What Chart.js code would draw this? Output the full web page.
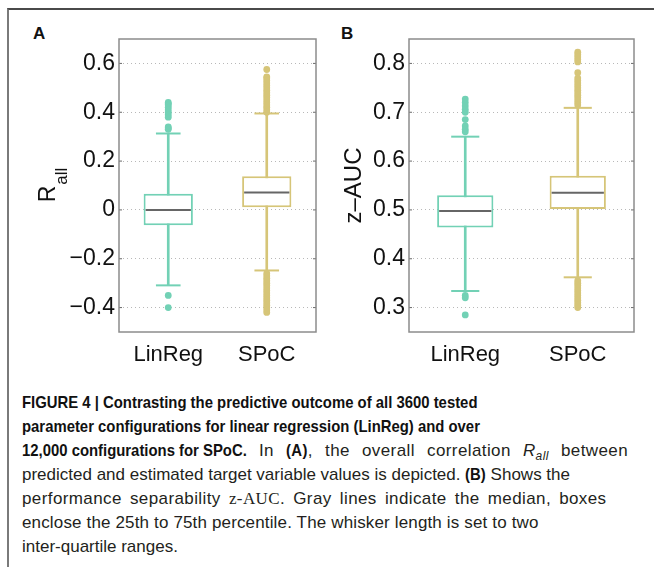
<!DOCTYPE html>
<html>
<head>
<meta charset="utf-8">
<script src="https://cdn.jsdelivr.net/npm/chart.js@4.4.1/dist/chart.umd.min.js"></script>
<style>
  body { margin: 0; background: #fff; width: 654px; height: 567px; overflow: hidden; position: relative;
         font-family: "Liberation Sans", Arial, sans-serif; }
  #frame { position: absolute; left: 7px; top: 8px; width: 660px; height: 600px;
           border-top: 2px solid #4a4a4a; border-left: 2px solid #7a7a7a; }
  .panel { position: absolute; top: 0; }
  #boxA { left: 0; width: 320px; height: 370px; }
  #boxB { left: 320px; width: 334px; height: 370px; }
  .tag { position: absolute; top: 24px; font: bold 17px "Liberation Sans", Arial, sans-serif; color: #111; }
  #caption { position: absolute; left: 22px; top: 391px; font-size: 17px; line-height: 24px;
             white-space: nowrap; color: #231f20; }
  #caption div { height: 24px; }
  #caption b { color: #111; display: inline-block; transform-origin: 0 50%; }
  #caption sub { font-size: 12px; line-height: 0; }
  .zauc { font-family: "Liberation Serif", "DejaVu Serif", serif; }
  .l3 { word-spacing: 7px; letter-spacing: 0.4px; }
  .l5 { word-spacing: 3px; letter-spacing: 0.4px; }
  .l6 { letter-spacing: 0.15px; }
</style>
</head>
<body>
<div id="frame"></div>
<div class="tag" style="left:33px">A</div>
<div class="tag" style="left:341px">B</div>
<div class="panel" id="boxA"><canvas id="chartA" width="320" height="370"></canvas></div>
<div class="panel" id="boxB"><canvas id="chartB" width="334" height="370"></canvas></div>
<div id="caption">
  <div><b>FIGURE 4 | Contrasting the predictive outcome of all 3600 tested</b></div>
  <div><b>parameter configurations for linear regression (LinReg) and over</b></div>
  <div><b>12,000 configurations for SPoC.</b><span class="l3"> In <b>(A)</b>, the overall correlation <i>R<sub>all</sub></i> between</span></div>
  <div>predicted and estimated target variable values is depicted. <b>(B)</b> Shows the</div>
  <div class="l5">performance separability <span class="zauc">z-AUC</span>. Gray lines indicate the median, boxes</div>
  <div class="l6">enclose the 25th to 75th percentile. The whisker length is set to two</div>
  <div>inter-quartile ranges.</div>
</div>
<script>
const categories = ['LinReg', 'SPoC'];
const boxColors = ['#72d1b5', '#d6c578'];
const medianColor = '#666666';

// A: overall correlation R_all
const rallQ1 = [-0.063, 0.011];
const rallMedian = [0.0, 0.071];
const rallQ3 = [0.066, 0.138];
const rallWhiskerLow = [-0.309, -0.248];
const rallWhiskerHigh = [0.313, 0.395];
const rallOutliersLinReg = [0.44, 0.435, 0.43, 0.42, 0.41, 0.40, 0.39, 0.38, 0.34, 0.335, 0.33, -0.35, -0.40];
const rallOutliersSPoC = [0.575, 0.545, 0.54, 0.53, 0.52, 0.51, 0.50, 0.49, 0.48, 0.47, 0.46, 0.45, 0.44, 0.43,
  0.42, 0.41, 0.40, -0.26, -0.27, -0.28, -0.29, -0.30, -0.31, -0.32, -0.33, -0.34, -0.35, -0.36, -0.37, -0.38,
  -0.39, -0.40, -0.41, -0.42];
const rallTicks = [-0.4, -0.2, 0, 0.2, 0.4, 0.6];

// B: performance separability z-AUC
const zaucQ1 = [0.464, 0.502];
const zaucMedian = [0.498, 0.535];
const zaucQ3 = [0.530, 0.570];
const zaucWhiskerLow = [0.334, 0.362];
const zaucWhiskerHigh = [0.650, 0.709];
const zaucOutliersLinReg = [0.727, 0.72, 0.713, 0.706, 0.70, 0.685, 0.672, 0.665, 0.66, 0.325, 0.32, 0.285];
const zaucOutliersSPoC = [0.823, 0.818, 0.813, 0.808, 0.803, 0.781, 0.77, 0.765, 0.76, 0.755, 0.75, 0.745, 0.74,
  0.735, 0.73, 0.725, 0.72, 0.715, 0.355, 0.35, 0.345, 0.34, 0.335, 0.33, 0.325, 0.32, 0.315, 0.31, 0.305, 0.30];
const zaucTicks = [0.3, 0.4, 0.5, 0.6, 0.7, 0.8];

const fontFamily = '"Liberation Sans", Arial, sans-serif';

// bold caption runs are set a bit narrower than the regular text
document.querySelectorAll('#caption b').forEach(b => {
  const w = b.getBoundingClientRect().width;
  b.style.transform = 'scaleX(0.875)';
  b.style.marginRight = (-(1 - 0.875) * w) + 'px';
});

function fmtTick(v) {
  if (v === 0) return '0';
  return (v < 0 ? '\u2212' : '') + Math.abs(v).toFixed(1);
}

// whisker caps, median bars, plot frame, inner tick marks and the rotated y title
function boxDetails(p) {
  return {
    id: 'boxDetails',
    afterDatasetsDraw(chart) {
      const ctx = chart.ctx, y = chart.scales.y;
      const boxes = chart.getDatasetMeta(2).data;
      ctx.save();
      ctx.lineWidth = 2;
      boxes.forEach((bar, i) => {
        const half = bar.width / 2;
        ctx.strokeStyle = boxColors[i];
        [p.lo[i], p.hi[i]].forEach(v => {
          const py = y.getPixelForValue(v);
          ctx.beginPath();
          ctx.moveTo(bar.x - half / 2, py);
          ctx.lineTo(bar.x + half / 2, py);
          ctx.stroke();
        });
        const my = y.getPixelForValue(p.med[i]);
        ctx.strokeStyle = medianColor;
        ctx.beginPath();
        ctx.moveTo(bar.x - half + 2, my);
        ctx.lineTo(bar.x + half - 2, my);
        ctx.stroke();
      });
      ctx.restore();
    },
    afterDraw(chart) {
      const ctx = chart.ctx, a = chart.chartArea, y = chart.scales.y;
      ctx.save();
      ctx.strokeStyle = '#6a6a6a';
      ctx.lineWidth = 1;
      y.ticks.forEach(t => {
        const py = y.getPixelForValue(t.value);
        ctx.beginPath();
        ctx.moveTo(a.left, py); ctx.lineTo(a.left + 3, py);
        ctx.moveTo(a.right - 3, py); ctx.lineTo(a.right, py);
        ctx.stroke();
      });
      ctx.strokeStyle = '#8c8c8c';
      ctx.lineWidth = 1.5;
      ctx.strokeRect(a.left, a.top, a.right - a.left, a.bottom - a.top);

      ctx.translate(p.titleX, (a.top + a.bottom) / 2);
      ctx.rotate(-Math.PI / 2);
      ctx.fillStyle = '#111';
      ctx.textBaseline = 'alphabetic';
      ctx.font = p.titleSize + 'px ' + fontFamily;
      const mainW = ctx.measureText(p.title).width;
      let subW = 0;
      if (p.sub) {
        ctx.font = '17px ' + fontFamily;
        subW = ctx.measureText(p.sub).width;
      }
      const x0 = -(mainW + subW) / 2;
      ctx.font = p.titleSize + 'px ' + fontFamily;
      ctx.fillText(p.title, x0, 8);
      if (p.sub) {
        ctx.font = '17px ' + fontFamily;
        ctx.fillText(p.sub, x0 + mainW + 1, 20);
      }
      ctx.restore();
    }
  };
}

function makePanel(canvasId, p) {
  const outlierSet = (vals, c) => ({
    type: 'line',
    data: vals.map(v => ({ x: categories[c], y: v })),
    showLine: false,
    pointRadius: 3.4,
    pointBackgroundColor: boxColors[c],
    pointBorderWidth: 0,
    order: 0
  });
  return new Chart(document.getElementById(canvasId), {
    type: 'bar',
    data: {
      labels: categories,
      datasets: [
        outlierSet(p.outLinReg, 0),
        outlierSet(p.outSPoC, 1),
        {
          data: categories.map((c, i) => [p.q1[i], p.q3[i]]),
          backgroundColor: '#ffffff',
          borderColor: boxColors,
          borderWidth: 2,
          borderSkipped: false,
          barPercentage: 0.5,
          categoryPercentage: 1,
          grouped: false,
          order: 1
        },
        {
          data: categories.map((c, i) => [p.lo[i], p.hi[i]]),
          backgroundColor: boxColors,
          barThickness: 2,
          grouped: false,
          order: 2
        }
      ]
    },
    options: {
      responsive: false,
      animation: false,
      layout: { padding: p.padding },
      plugins: { legend: { display: false }, tooltip: { enabled: false } },
      scales: {
        x: {
          grid: { display: false },
          border: { display: false },
          ticks: { color: '#111', padding: 2, font: { family: fontFamily, size: 22 } },
          afterFit: s => { s.height = 38; }
        },
        y: {
          min: p.min,
          max: p.max,
          afterBuildTicks: s => { s.ticks = p.ticks.map(v => ({ value: v })); },
          grid: { color: '#b8b8b8', lineWidth: 1, drawTicks: false },
          border: { display: false, dash: [1, 3] },
          ticks: { color: '#111', padding: 4, font: { family: fontFamily, size: 23 }, callback: fmtTick },
          afterFit: s => { s.width = p.axisWidth; }
        }
      }
    },
    plugins: [boxDetails(p)]
  });
}

makePanel('chartA', {
  q1: rallQ1, med: rallMedian, q3: rallQ3, lo: rallWhiskerLow, hi: rallWhiskerHigh,
  outLinReg: rallOutliersLinReg, outSPoC: rallOutliersSPoC, ticks: rallTicks,
  min: -0.5, max: 0.7, axisWidth: 119, padding: { top: 39, right: 1, left: 0, bottom: 0 },
  title: 'R', sub: 'all', titleSize: 23, titleX: 47
});

makePanel('chartB', {
  q1: zaucQ1, med: zaucMedian, q3: zaucQ3, lo: zaucWhiskerLow, hi: zaucWhiskerHigh,
  outLinReg: zaucOutliersLinReg, outSPoC: zaucOutliersSPoC, ticks: zaucTicks,
  min: 0.25, max: 0.85, axisWidth: 89, padding: { top: 39, right: 20, left: 0, bottom: 0 },
  title: 'z\u2013AUC', sub: '', titleSize: 24, titleX: 33
});
</script>
</body>
</html>
